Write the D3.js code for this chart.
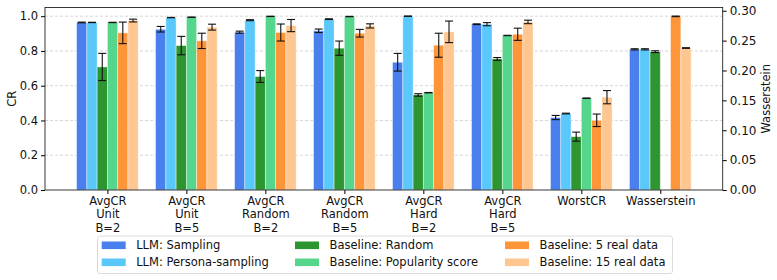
<!DOCTYPE html>
<html>
<head>
<meta charset="utf-8">
<script src="https://cdn.jsdelivr.net/npm/d3@7"></script>
<style>
  body { margin: 0; background: #fff; }
  svg { font-family: "DejaVu Sans", sans-serif; }
</style>
</head>
<body>
<div id="chart"></div>
<script>
// groups on the x axis (last one is read against the right axis)
var groups = ["AvgCR\nUnit\nB=2", "AvgCR\nUnit\nB=5", "AvgCR\nRandom\nB=2", "AvgCR\nRandom\nB=5",
              "AvgCR\nHard\nB=2", "AvgCR\nHard\nB=5", "WorstCR", "Wasserstein"];

var seriesNames = ["LLM: Sampling", "LLM: Persona-sampling", "Baseline: Random",
                   "Baseline: Popularity score", "Baseline: 5 real data", "Baseline: 15 real data"];
var seriesColors = ["#4a7fee", "#5ac8fa", "#2e9630", "#56d68c", "#fe9539", "#fec691"];

// mean values per series, one per group
var sampling   = [0.964, 0.925, 0.908, 0.916, 0.735, 0.954, 0.417, 0.2354];
var persona    = [0.964, 0.992, 0.977, 0.983, 1.000, 0.954, 0.440, 0.2354];
var random     = [0.708, 0.831, 0.653, 0.816, 0.547, 0.754, 0.307, 0.2315];
var popularity = [0.964, 0.994, 0.999, 0.998, 0.560, 0.889, 0.528, null];
var real5      = [0.904, 0.858, 0.906, 0.902, 0.833, 0.896, 0.401, 0.2906];
var real15     = [0.975, 0.937, 0.946, 0.944, 0.910, 0.967, 0.534, 0.2376];

// error bar half widths
var samplingErr   = [0.002, 0.016, 0.006, 0.010, 0.051, 0.002, 0.012, 0.001];
var personaErr    = [0.001, 0.001, 0.003, 0.002, 0.001, 0.009, 0.002, 0.001];
var randomErr     = [0.078, 0.053, 0.034, 0.041, 0.007, 0.008, 0.026, 0.0015];
var popularityErr = [0.001, 0.001, 0.001, 0.001, 0.001, 0.001, 0.001, null];
var real5Err      = [0.062, 0.044, 0.049, 0.022, 0.069, 0.035, 0.036, 0.0005];
var real15Err     = [0.008, 0.017, 0.035, 0.012, 0.062, 0.010, 0.038, 0.0005];

var leftTicks  = [0, 0.2, 0.4, 0.6, 0.8, 1.0];
var rightTicks = [0, 0.05, 0.10, 0.15, 0.20, 0.25, 0.30];

var values = [sampling, persona, random, popularity, real5, real15];
var errors = [samplingErr, personaErr, randomErr, popularityErr, real5Err, real15Err];

var width = 777, height = 280;
var plotL = 45, plotR = 722.7, plotT = 7.5, plotB = 190;
var barW = 0.13;

var svg = d3.select("#chart").append("svg")
  .attr("width", width)
  .attr("height", height);

var x = d3.scaleLinear().domain([-0.79, groups.length - 0.21]).range([plotL, plotR]);
var yL = d3.scaleLinear().domain([0, 1.05]).range([plotB, plotT]);
var yR = d3.scaleLinear().domain([0, 0.3054]).range([plotB, plotT]);

// dashed grid on the left ticks
svg.append("g")
  .selectAll("line")
  .data(leftTicks.filter(function (d) { return d > 0; }))
  .enter().append("line")
    .attr("x1", plotL).attr("x2", plotR)
    .attr("y1", function (d) { return yL(d); })
    .attr("y2", function (d) { return yL(d); })
    .attr("stroke", "#cccccc")
    .attr("stroke-width", 0.8)
    .attr("stroke-dasharray", "3,2");

// flatten to one record per bar
var bars = [];
values.forEach(function (arr, s) {
  arr.forEach(function (v, g) {
    if (v === null) return;
    bars.push({ s: s, g: g, v: v, e: errors[s][g] });
  });
});
function yOf(d) { return d.g === groups.length - 1 ? yR : yL; }
function cx(d) { return x(d.g + (d.s - 2.5) * barW); }
var bw = x(barW) - x(0);

svg.append("g")
  .selectAll("rect")
  .data(bars)
  .enter().append("rect")
    .attr("x", function (d) { return cx(d) - bw / 2; })
    .attr("width", bw)
    .attr("y", function (d) { return yOf(d)(d.v); })
    .attr("height", function (d) { return plotB - yOf(d)(d.v); })
    .attr("fill", function (d) { return seriesColors[d.s]; })
    .attr("stroke", "white")
    .attr("stroke-opacity", 0.5)
    .attr("stroke-width", 0.8);

// error bars
var eb = svg.append("g").attr("stroke", "#111").attr("stroke-width", 1.1);
bars.forEach(function (d) {
  var y = yOf(d), c = cx(d);
  eb.append("line").attr("x1", c).attr("x2", c)
    .attr("y1", y(d.v - d.e)).attr("y2", y(d.v + d.e));
  [d.v - d.e, d.v + d.e].forEach(function (t) {
    eb.append("line").attr("x1", c - 4).attr("x2", c + 4)
      .attr("y1", y(t)).attr("y2", y(t));
  });
});

// frame
svg.append("rect")
  .attr("x", plotL).attr("y", plotT)
  .attr("width", plotR - plotL).attr("height", plotB - plotT)
  .attr("fill", "none").attr("stroke", "#222").attr("stroke-width", 0.9);

// left axis
var axL = svg.append("g")
  .attr("transform", "translate(" + plotL + ",0)")
  .call(d3.axisLeft(yL).tickValues(leftTicks).tickFormat(d3.format(".1f")).tickSize(4).tickPadding(3));
axL.select(".domain").remove();
axL.selectAll("text").attr("font-size", "11.5px").attr("font-family", "DejaVu Sans").attr("fill", "#111");

// right axis
var axR = svg.append("g")
  .attr("transform", "translate(" + plotR + ",0)")
  .call(d3.axisRight(yR).tickValues(rightTicks).tickFormat(d3.format(".2f")).tickSize(4).tickPadding(3));
axR.select(".domain").remove();
axR.selectAll("text").attr("font-size", "12px").attr("font-family", "DejaVu Sans").attr("fill", "#111");

// bottom axis with multi-line labels
var axB = svg.append("g")
  .attr("transform", "translate(0," + plotB + ")")
  .call(d3.axisBottom(x).tickValues(d3.range(groups.length)).tickFormat("").tickSize(4));
axB.select(".domain").remove();
axB.selectAll(".tick").each(function (d) {
  var t = d3.select(this).append("text")
    .attr("y", 15)
    .attr("fill", "#111")
    .attr("font-size", "11.5px")
    .attr("font-family", "DejaVu Sans")
    .attr("text-anchor", "middle");
  groups[d].split("\n").forEach(function (line, i) {
    t.append("tspan").attr("x", 0).attr("dy", i === 0 ? 0 : 13.3).text(line);
  });
});

// axis titles
svg.append("text")
  .attr("transform", "translate(16," + ((plotT + plotB) / 2) + ") rotate(-90)")
  .attr("text-anchor", "middle")
  .attr("font-size", "11.5px")
  .attr("fill", "#111")
  .text("CR");
svg.append("text")
  .attr("transform", "translate(770," + ((plotT + plotB) / 2) + ") rotate(-90)")
  .attr("text-anchor", "middle")
  .attr("font-size", "11.5px")
  .attr("fill", "#111")
  .text("Wasserstein");

// legend, 3 columns x 2 rows
var lg = svg.append("g");
lg.append("rect")
  .attr("x", 97.5).attr("y", 236)
  .attr("width", 575).attr("height", 37.5)
  .attr("rx", 2.5)
  .attr("fill", "white").attr("stroke", "#d6d6d6").attr("stroke-width", 0.9);
var colX = [101.7, 295, 505];
var rowY = [245.3, 262.3];
seriesNames.forEach(function (name, i) {
  var col = Math.floor(i / 2), row = i % 2;
  lg.append("rect")
    .attr("x", colX[col]).attr("y", rowY[row] - 3.8)
    .attr("width", 24).attr("height", 7.6)
    .attr("fill", seriesColors[i]);
  lg.append("text")
    .attr("x", colX[col] + 34.5).attr("y", rowY[row])
    .attr("dy", "0.35em")
    .attr("font-size", "11.5px")
    .attr("fill", "#111")
    .text(name);
});
</script>
</body>
</html>
